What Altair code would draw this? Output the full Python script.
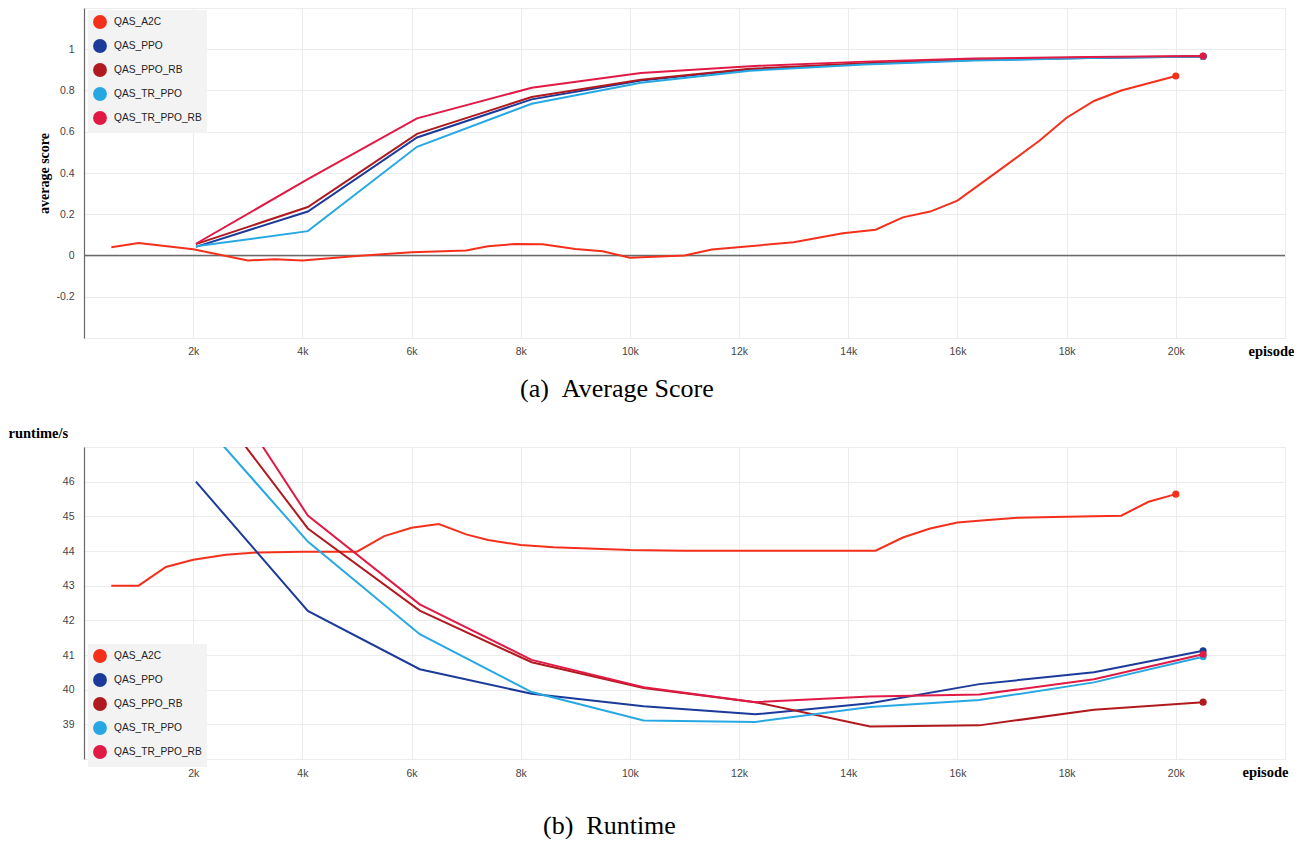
import altair as alt
import pandas as pd

SERIES = ["QAS_A2C", "QAS_PPO", "QAS_PPO_RB", "QAS_TR_PPO", "QAS_TR_PPO_RB"]
COLORS = ["#f4301c", "#1c3a9a", "#b01a1e", "#27a8e2", "#e01a45"]

# ---------- (a) Average Score  (episode in thousands) ----------
a2c_ep = [0.5, 1, 2, 3, 3.5, 4, 5, 6, 7, 7.4, 7.9, 8.4, 9, 9.5, 10, 11, 11.5, 13,
          13.9, 14.5, 15, 15.5, 16, 16.8, 17.5, 18, 18.5, 19, 20]
a2c_score = [0.04, 0.06, 0.03, -0.024, -0.018, -0.024, -0.002, 0.016, 0.024, 0.045,
             0.056, 0.055, 0.032, 0.021, -0.011, 0.0, 0.029, 0.064, 0.108, 0.125,
             0.185, 0.213, 0.266, 0.42, 0.556, 0.668, 0.749, 0.80, 0.87]
ppo_ep = [2.05, 4.1, 6.1, 8.2, 10.2, 12.2, 14.3, 16.3, 18.4, 20.5]
ppo_score = [0.042, 0.213, 0.572, 0.757, 0.848, 0.903, 0.930, 0.948, 0.958, 0.965]
ppo_rb_score = [0.055, 0.235, 0.590, 0.768, 0.852, 0.905, 0.932, 0.950, 0.960, 0.966]
tr_ppo_score = [0.045, 0.118, 0.527, 0.736, 0.838, 0.896, 0.926, 0.945, 0.957, 0.965]
tr_ppo_rb_score = [0.057, 0.370, 0.665, 0.813, 0.885, 0.918, 0.940, 0.955, 0.962, 0.967]

# ---------- (b) Runtime ----------
a2c_rt_ep = [0.5, 1, 1.5, 2, 2.6, 3.2, 4, 5, 5.5, 6, 6.5, 7, 7.4, 8, 8.6, 10, 11,
             14.5, 15, 15.5, 16, 16.5, 17.1, 18, 19, 19.5, 20]
a2c_rt = [43.0, 43.0, 43.54, 43.75, 43.89, 43.96, 43.98, 43.98, 44.43, 44.67, 44.78,
          44.48, 44.32, 44.17, 44.11, 44.03, 44.01, 44.01, 44.39, 44.65, 44.82, 44.89,
          44.96, 44.99, 45.02, 45.42, 45.64]
rt_ep = [2.05, 4.1, 6.15, 8.2, 10.25, 12.3, 14.4, 16.4, 18.5, 20.5]
ppo_rt = [46.0, 42.27, 40.59, 39.88, 39.52, 39.29, 39.61, 40.16, 40.5, 41.12]
ppo_rb_rt = [48.9, 44.65, 42.28, 40.79, 40.05, 39.64, 38.94, 38.97, 39.42, 39.64]
tr_ppo_rt = [47.93, 44.27, 41.6, 39.93, 39.11, 39.07, 39.5, 39.7, 40.21, 40.95]
tr_ppo_rb_rt = [49.96, 45.02, 42.46, 40.86, 40.07, 39.64, 39.8, 39.86, 40.3, 41.02]


def build(groups):
    rows, last = [], []
    for name, xs, ys in groups:
        for i, (x, y) in enumerate(zip(xs, ys)):
            rows.append({"ep": x, "val": y, "series": name, "idx": i})
        last.append({"ep": xs[-1], "val": ys[-1], "endseries": name})
    return pd.DataFrame(rows), pd.DataFrame(last)


score_df, score_last = build([
    ("QAS_A2C", a2c_ep, a2c_score),
    ("QAS_PPO", ppo_ep, ppo_score),
    ("QAS_PPO_RB", ppo_ep, ppo_rb_score),
    ("QAS_TR_PPO", ppo_ep, tr_ppo_score),
    ("QAS_TR_PPO_RB", ppo_ep, tr_ppo_rb_score),
])
rt_df, rt_last = build([
    ("QAS_A2C", a2c_rt_ep, a2c_rt),
    ("QAS_PPO", rt_ep, ppo_rt),
    ("QAS_PPO_RB", rt_ep, ppo_rb_rt),
    ("QAS_TR_PPO", rt_ep, tr_ppo_rt),
    ("QAS_TR_PPO_RB", rt_ep, tr_ppo_rb_rt),
])

W = 1201
SANS = "Liberation Sans"
SERIF = "Liberation Serif"
GRID = "#ececec"


def legend(ly):
    return alt.Legend(title=None, orient="none", legendX=4, legendY=ly,
                      fillColor="#f3f3f3", padding=5, symbolType="circle",
                      symbolSize=150, symbolStrokeWidth=1.6,
                      symbolFillColor="transparent", labelFont=SANS,
                      labelFontSize=10.2, labelColor="#222", rowPadding=4,
                      labelOffset=7)


def xaxis(tx, ty, lp):
    return alt.Axis(values=list(range(2, 23, 2)),
                    labelExpr="datum.value < 21 ? datum.value + 'k' : ''",
                    grid=True, gridColor=GRID, domain=False, ticks=False,
                    labelFont=SANS, labelFontSize=10.5, labelColor="#444",
                    labelPadding=lp, title="episode", titleFont=SERIF,
                    titleFontSize=14.5, titleFontWeight="bold", titleColor="#000",
                    titleX=tx, titleY=ty, titleAlign="left",
                    titleBaseline="alphabetic")


def panel(df, last, ydom, yaxis, h, ly, tx, lp, caption, cdx, coff, extra=None):
    x = alt.X("ep:Q", scale=alt.Scale(domain=[0, 22], nice=False), axis=xaxis(tx, 17, lp))
    y = alt.Y("val:Q", scale=alt.Scale(domain=ydom, nice=False, zero=False), axis=yaxis)
    stroke_l = alt.Stroke("series:N", scale=alt.Scale(domain=SERIES, range=COLORS),
                          legend=legend(ly))
    fill_p = alt.Fill("endseries:N", scale=alt.Scale(domain=SERIES, range=COLORS),
                      legend=None)
    lines = alt.Chart(df).mark_line(strokeWidth=2, clip=True).encode(
        x=x, y=y, stroke=stroke_l, order="idx:Q")
    dots = alt.Chart(last).mark_circle(size=50, opacity=1).encode(x=x, y=y, fill=fill_p)
    layers = [lines, dots]
    if extra is not None:
        layers = [extra] + layers
    return alt.layer(*layers).properties(
        width=W, height=h,
        title=alt.TitleParams(text=caption, orient="bottom", anchor="start",
                              frame="group", dx=cdx, offset=coff, font=SERIF,
                              fontSize=26, fontWeight="normal", color="#000"))


yaxis_a = alt.Axis(values=[-0.4, -0.2, 0, 0.2, 0.4, 0.6, 0.8, 1, 1.2],
                   labelExpr="(datum.value > 1.1 || datum.value < -0.3) ? '' : datum.value + ''",
                   grid=True, gridColor=GRID, domain=True, domainColor="#666",
                   domainWidth=1.2, ticks=False, labelFont=SANS, labelFontSize=10.5,
                   labelColor="#444", labelPadding=10, title="average score",
                   titleFont=SERIF, titleFontSize=14, titleFontWeight="bold",
                   titleColor="#000", titlePadding=4)
yaxis_b = alt.Axis(values=[38, 39, 40, 41, 42, 43, 44, 45, 46, 47],
                   labelExpr="(datum.value >= 39 && datum.value <= 46) ? datum.value + '' : ''",
                   grid=True, gridColor=GRID, domain=True, domainColor="#666",
                   domainWidth=1.2, ticks=False, labelFont=SANS, labelFontSize=10.5,
                   labelColor="#444", labelPadding=10, title="runtime/s",
                   titleFont=SERIF, titleFontSize=14.5, titleFontWeight="bold",
                   titleColor="#000", titleAngle=0, titleX=-76, titleY=-10,
                   titleAlign="left", titleBaseline="alphabetic")

zero_line = alt.Chart(pd.DataFrame({"val": [0]})).mark_rule(
    color="#6a6a6a", strokeWidth=1.3).encode(y=alt.Y("val:Q"))

top = panel(score_df, score_last, [-0.4, 1.2], yaxis_a, 330, 2, 1164, 8,
            "(a)\u00a0\u00a0Average Score", 436, 18, extra=zero_line)
bottom = panel(rt_df, rt_last, [38, 47], yaxis_b, 312, 197, 1158, 9,
               "(b)\u00a0\u00a0Runtime", 459, 34)

chart = alt.vconcat(top, bottom, spacing=23).resolve_scale(
    stroke="independent", fill="independent").resolve_legend(
    stroke="independent").configure_view(
    stroke=None).properties(padding=0, background="white")

chart.save("out.html", embed_options={"renderer": "svg", "actions": False})
